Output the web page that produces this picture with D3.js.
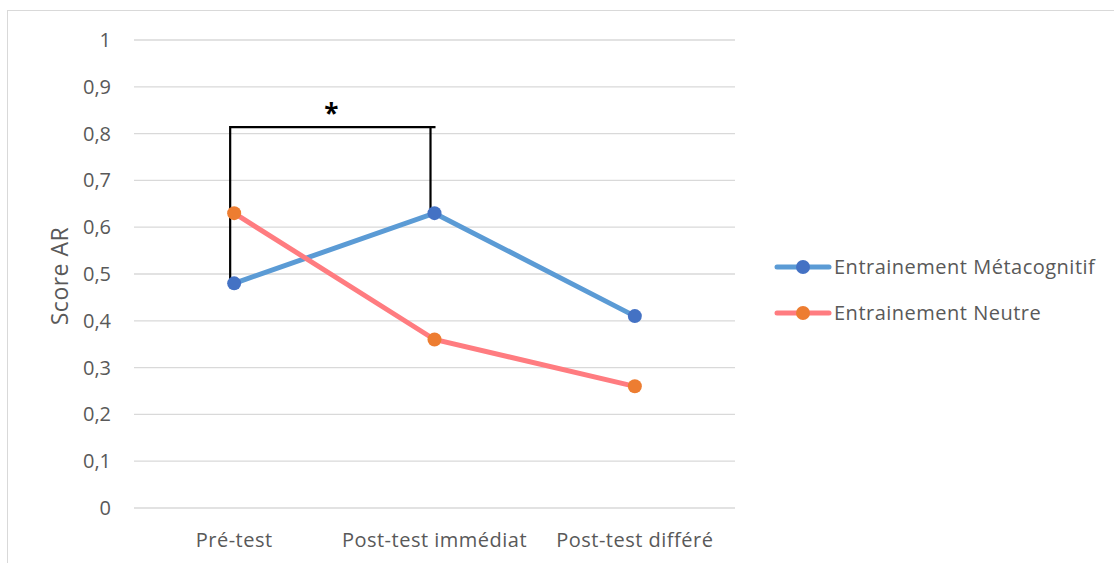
<!DOCTYPE html>
<html><head><meta charset="utf-8">
<script src="https://cdn.jsdelivr.net/npm/d3@7"></script>
<style>body{margin:0;background:#fff}svg{display:block}text{font-family:"Open Sans",sans-serif;fill:#595959}</style>
</head><body><svg id="c" width="1114" height="563"></svg>
<script>
const categories = ["Pré-test", "Post-test immédiat", "Post-test différé"];
const metacognitif = [0.48, 0.63, 0.41];
const neutre = [0.63, 0.36, 0.26];
const seriesNames = ["Entrainement Métacognitif", "Entrainement Neutre"];
const yTicks = [0, 0.1, 0.2, 0.3, 0.4, 0.5, 0.6, 0.7, 0.8, 0.9, 1];
const yTickLabels = ["0", "0,1", "0,2", "0,3", "0,4", "0,5", "0,6", "0,7", "0,8", "0,9", "1"];
const bracketLevel = 0.814;

const svg = d3.select("#c");
svg.append("rect").attr("x",7.5).attr("y",10.5).attr("width",1200).attr("height",700)
  .attr("fill","none").attr("stroke","#d9d9d9").attr("stroke-width",1);

const x = d3.scaleBand().domain(categories).range([134, 735]);
const y = d3.scaleLinear().domain([0,1]).range([508, 40]);

const grid = svg.append("g");
yTicks.forEach((t,i)=>{
  grid.append("line").attr("x1",134).attr("x2",735).attr("y1",y(t)).attr("y2",y(t))
    .attr("stroke","#d9d9d9").attr("stroke-width",1.3);
  grid.append("text").attr("x",111).attr("y",y(t)).attr("dy","0.35em").attr("text-anchor","end")
    .attr("font-size",20).text(yTickLabels[i]);
});
categories.forEach(c=>{
  svg.append("text").attr("x",x(c)+x.bandwidth()/2).attr("y",547).attr("text-anchor","middle")
    .attr("font-size",20).attr("letter-spacing",0.5).text(c);
});
svg.append("text").attr("transform","translate(68,276) rotate(-90)").attr("text-anchor","middle")
  .attr("font-size",23).attr("letter-spacing",0.5).text("Score AR");

const cx = c => x(c)+x.bandwidth()/2;
const series = [
  {name: seriesNames[0], vals: metacognitif, line:"#5b9bd5", mk:"#4472c4"},
  {name: seriesNames[1], vals: neutre, line:"#ff7c80", mk:"#ed7d31"}
];
const lineGen = d3.line().x((d,i)=>cx(categories[i])).y(d=>y(d));

// bracket
const bx1 = cx(categories[0]) - 4, bx2 = cx(categories[1]) - 4;
svg.append("path")
  .attr("d", `M${bx1},${y(metacognitif[0])} L${bx1},${y(bracketLevel)} L${bx2+5},${y(bracketLevel)} M${bx2},${y(bracketLevel)} L${bx2},${y(metacognitif[1])}`)
  .attr("fill","none").attr("stroke","#000").attr("stroke-width",2.2);
svg.append("text").attr("x",(bx1+bx2)/2+1).attr("y",y(bracketLevel)-4).attr("text-anchor","middle")
  .attr("font-size",26).attr("font-weight","bold").style("fill","#000").text("*");

series.forEach(s=>{
  svg.append("path").datum(s.vals).attr("d",lineGen).attr("fill","none")
    .attr("stroke",s.line).attr("stroke-width",5).attr("stroke-linecap","round");
});
series.forEach(s=>{
  s.vals.forEach((v,i)=>{
    svg.append("circle").attr("cx",cx(categories[i])).attr("cy",y(v)).attr("r",7).attr("fill",s.mk);
  });
});

// legend
series.forEach((s,i)=>{
  const ly = 267 + i*46;
  svg.append("line").attr("x1",777).attr("x2",829).attr("y1",ly).attr("y2",ly)
    .attr("stroke",s.line).attr("stroke-width",5).attr("stroke-linecap","round");
  svg.append("circle").attr("cx",803).attr("cy",ly).attr("r",7).attr("fill",s.mk);
  svg.append("text").attr("x",834).attr("y",ly).attr("dy","0.35em").attr("font-size",20)
    .attr("letter-spacing",0.5).text(s.name);
});
</script></body></html>
